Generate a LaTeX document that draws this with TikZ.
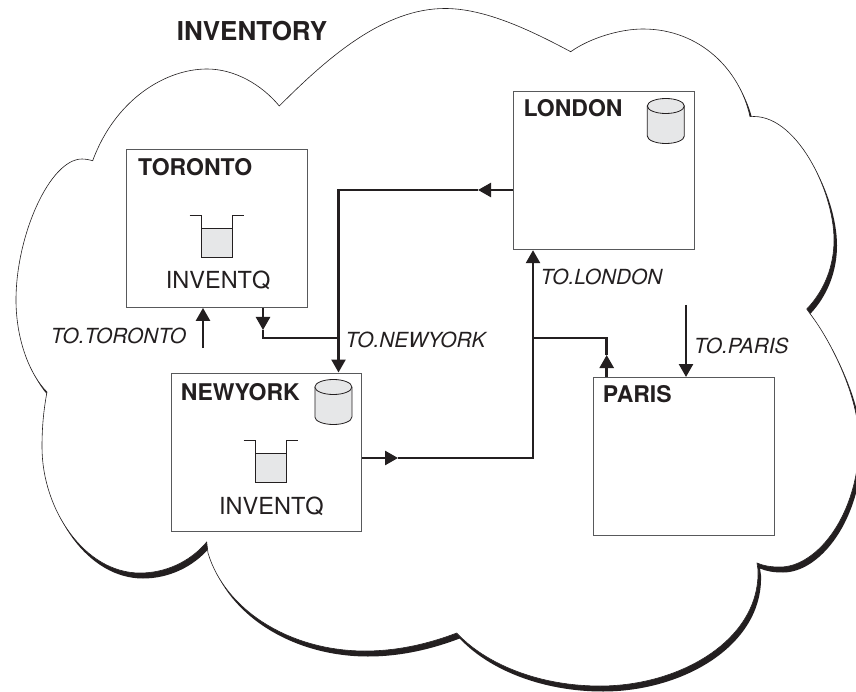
\documentclass[tikz,border=0pt]{standalone}
\usepackage{fontspec}
\setmainfont{TeX Gyre Heros}
\usetikzlibrary{arrows.meta}
\definecolor{fillgray}{HTML}{E6E7E8}
\definecolor{inkdark}{HTML}{231F20}
\definecolor{boxgray}{HTML}{58595B}
\newcommand{\cloudpath}{(92.7,160.7) .. controls (115,100) and (165,69) .. (207,69)
 .. controls (235,69) and (262,85) .. (279.3,106)
 .. controls (330,55) and (385,8.5) .. (445,8.5)
 .. controls (485,8.5) and (530,30) .. (570.7,51.7)
 .. controls (590,38) and (620,29) .. (643,29)
 .. controls (700,29) and (740,70) .. (750,116.7)
 .. controls (795,112) and (834,190) .. (834,240)
 .. controls (834,265) and (825,290) .. (806.7,309)
 -- (811,315)
 .. controls (830,340) and (862,400) .. (859,450)
 .. controls (855,520) and (815,567) .. (780,567)
 .. controls (771,567) and (764,566) .. (757,563)
 -- (758,570)
 .. controls (760,640) and (680,686) .. (600,686)
 .. controls (540,686) and (490,665) .. (461.7,638)
 -- (456.7,633)
 .. controls (425,645) and (395,651) .. (365,651)
 .. controls (290,651) and (225,610) .. (208,553)
 -- (206.7,542)
 .. controls (190,562) and (165,573) .. (140,573)
 .. controls (85,573) and (42,510) .. (42,447)
 .. controls (42,425) and (44,408) .. (47,392)
 .. controls (30,375) and (16,340) .. (16,300)
 .. controls (16,235) and (50,159) .. (82,159)
 .. controls (86,159) and (90,160) .. cycle}
\tikzset{
 qmgr/.style={draw=boxgray,line width=0.9pt,fill=white,rectangle,inner sep=0pt,anchor=north west,minimum width=181pt,minimum height=158pt},
 boldlabel/.style={font=\fontsize{23}{23}\selectfont\bfseries,text=inkdark,anchor=base west,inner sep=0pt},
 plainlabel/.style={font=\fontsize{23.5}{23.5}\selectfont,text=inkdark,anchor=base west,inner sep=0pt},
 channellabel/.style={font=\fontsize{20.8}{20.8}\selectfont\itshape,text=inkdark,anchor=base west,inner sep=0pt},
 link/.style={draw=inkdark,line width=2.5pt,line cap=butt,line join=miter},
 tip/.style={-{Triangle[length=13pt,width=14pt,inset=0pt]}},
 icon/.style={draw=inkdark,line width=0.8pt},
 queueicon/.pic={
  \fill[fillgray] (0,12.7) rectangle (30.6,42);
  \draw[icon] (0,12.7) -- (30.6,12.7);
  \draw[icon,line width=1pt] (-12,0) -- (0,0) -- (0,42) -- (30.6,42) -- (30.6,0) -- (42.6,0);
 },
 cylicon/.pic={
  \draw[icon,fill=fillgray] (-18.5,0) -- (-18.5,30) arc (180:0:18.5 and 7.5) -- (18.5,0);
  \draw[icon,fill=fillgray] (0,0) ellipse (18.5 and 7.5);
 }
}
\begin{document}
\begin{tikzpicture}[x=1pt,y=-1pt]
\useasboundingbox (0,0) rectangle (856,692);
\clip (0,0) rectangle (856,692);
\fill[inkdark,shift={(3,5.5)}] \cloudpath;
\draw[inkdark,line width=0.6pt,fill=white] \cloudpath;

\node[qmgr] (toronto) at (126,149) {};
\node[qmgr] (london) at (513.3,91.3) {};
\node[qmgr,minimum width=190.3pt] (newyork) at (171,372.5) {};
\node[qmgr] (paris) at (593.3,377) {};

\node[boldlabel,font=\fontsize{26}{26}\selectfont\bfseries] (title) at (176.7,40.7) {INVENTORY};
\node[boldlabel] (torontoname) at (138,175.7) {TORONTO};
\node[plainlabel] (torontoq) at (165.7,289) {INVENTQ};
\node[boldlabel] (londonname) at (523.3,116.7) {LONDON};
\node[boldlabel] (newyorkname) at (180.7,400) {NEWYORK};
\node[plainlabel] (newyorkq) at (219,514.7) {INVENTQ};
\node[boldlabel] (parisname) at (602.7,402.7) {PARIS};
\node[channellabel] (totoronto) at (50.7,343.3) {TO.TORONTO};
\node[channellabel] (tonewyork) at (345.5,347) {TO.NEWYORK};
\node[channellabel] (tolondon) at (540.5,285) {TO.LONDON};
\node[channellabel] (toparis) at (694,353.3) {TO.PARIS};

\pic at (201.7,215.7) {queueicon};
\pic at (255.7,440.3) {queueicon};
\pic at (665.8,106) {cylicon};
\pic at (333.4,387) {cylicon};

% junctions and free ends
\coordinate (nwcorner) at (338.5,190);
\coordinate (torontodrop) at (263,338);
\coordinate (nwjoin) at (338.5,338);
\coordinate (lonleft) at (478,190);
\coordinate (torontomid) at (263,330);
\coordinate (nyright) at (398,458);
\coordinate (lonriser) at (533,458);
\coordinate (parisjoin) at (533,338);
\coordinate (parisbend) at (606.7,338);
\coordinate (parismid) at (606.7,355);
\coordinate (parisstart) at (686,305);
\coordinate (torontostart) at (203,348);

\draw[link] (lonleft) -- (nwcorner) -- (nwjoin);
\draw[link,tip] (nwjoin) -- (nwjoin |- newyork.north);
\draw[link,tip] (london.west |- nwcorner) -- (lonleft);
\draw[link,tip] (torontomid |- toronto.south) -- (torontomid);
\draw[link] (torontomid) -- (torontodrop) -- (nwjoin);
\draw[link,tip] (newyork.east |- nyright) -- (nyright);
\draw[link] (nyright) -- (lonriser) -- (parisjoin);
\draw[link,tip] (parisjoin) -- (parisjoin |- london.south);
\draw[link,tip] (parismid |- paris.north) -- (parismid);
\draw[link] (parismid) -- (parisbend) -- (parisjoin);
\draw[link,tip] (parisstart) -- (parisstart |- paris.north);
\draw[link,tip] (torontostart) -- (torontostart |- toronto.south);
\end{tikzpicture}
\end{document}
